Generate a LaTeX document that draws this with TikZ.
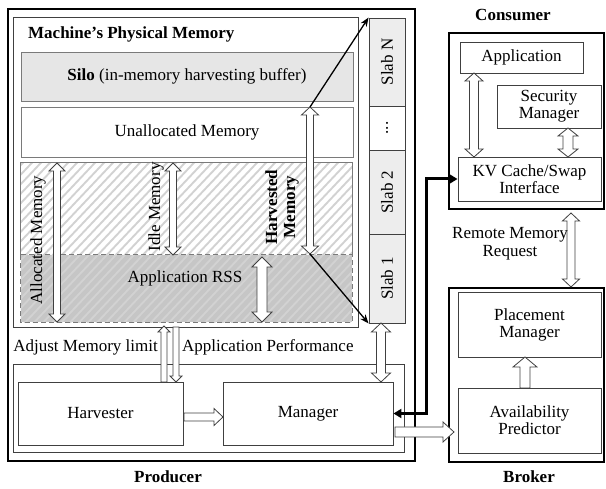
\documentclass[tikz,border=0pt]{standalone}
\usepackage{fontspec}
\setmainfont{Liberation Serif}
\usetikzlibrary{arrows.meta,calc}
\definecolor{silofill}{HTML}{E6E6E6}
\definecolor{slabfill}{HTML}{EDEDED}
\definecolor{rssfill}{HTML}{C6C6C6}
\definecolor{hatchc}{HTML}{D2D2D2}
\definecolor{edge}{HTML}{404040}
\definecolor{softedge}{HTML}{7A7A7A}
\newcommand\boxnode[7]{\node[#6, minimum width={#4-#2}, minimum height={#5-#3}, inner sep=0pt, align=center] (#1) at ({(#2+#4)/2},{(#3+#5)/2}) {#7};}
% vertical double hollow arrow: x, ytop, ybot, half shaft, half head, head length
\newcommand\vdarr[6]{\draw[hollow] (#1-#4,#2+#6) -- (#1-#5,#2+#6) -- (#1,#2) -- (#1+#5,#2+#6) -- (#1+#4,#2+#6) -- (#1+#4,#3-#6) -- (#1+#5,#3-#6) -- (#1,#3) -- (#1-#5,#3-#6) -- (#1-#4,#3-#6) -- cycle;}
\newcommand\vuarr[6]{\draw[hollow] (#1-#4,#3) -- (#1-#4,#2+#6) -- (#1-#5,#2+#6) -- (#1,#2) -- (#1+#5,#2+#6) -- (#1+#4,#2+#6) -- (#1+#4,#3) -- cycle;}
\newcommand\vdnarr[6]{\draw[hollow] (#1-#4,#2) -- (#1-#4,#3-#6) -- (#1-#5,#3-#6) -- (#1,#3) -- (#1+#5,#3-#6) -- (#1+#4,#3-#6) -- (#1+#4,#2) -- cycle;}
\newcommand\hrarr[6]{\draw[hollow] (#2,#1-#4) -- (#3-#6,#1-#4) -- (#3-#6,#1-#5) -- (#3,#1) -- (#3-#6,#1+#5) -- (#3-#6,#1+#4) -- (#2,#1+#4) -- cycle;}
\begin{document}
\begin{tikzpicture}[x=1pt,y=-1pt,
  txt/.style={font=\fontsize{17}{19}\selectfont},
  box/.style={draw=edge, line width=0.9pt, txt},
  thickbox/.style={draw=black, line width=2.3pt},
  softbox/.style={draw=softedge, line width=0.9pt, txt},
  hollow/.style={draw=edge, fill=white, line width=0.8pt, line join=miter},
  lbl/.style={txt, inner sep=0pt},
  ttl/.style={txt, font=\fontsize{17}{19}\selectfont\bfseries, inner sep=0pt}]
\useasboundingbox (0,0) rectangle (606,489);
% ---------------- Producer ----------------
\boxnode{producer}{8}{9}{415}{461}{thickbox}{}
\boxnode{machine}{13}{17}{358}{327}{box}{}
\node[ttl, anchor=west] (mtitle) at (28,34) {Machine’s Physical Memory};
\boxnode{silo}{21}{52}{353}{101}{softbox, fill=silofill}{\textbf{Silo} (in-memory harvesting buffer)}
\boxnode{unalloc}{21}{107}{353}{157}{softbox}{Unallocated Memory}
% hatched region
\boxnode{alloc}{21}{163}{352}{322}{}{}
\boxnode{rss}{21}{255}{352}{322}{fill=rssfill}{}
\begin{scope}
  \clip (alloc.north west) rectangle (alloc.south east);
  \foreach \i in {-180,-171,...,360} {
    \draw[hatchc, line width=1.9pt] (\i,330) -- (\i+170,150);
  }
\end{scope}
\draw[softedge, line width=0.9pt] (rss.north west) -- (alloc.north west) -- (alloc.north east) -- (rss.north east);
\draw[softedge, line width=0.9pt, dashed, dash pattern=on 5pt off 3pt] (rss.north west) rectangle (rss.south east);
\node[lbl] (rsslbl) at (185,278) {Application RSS};
\node[lbl, rotate=90] (alloclbl) at (38,240) {Allocated Memory};
\node[lbl, rotate=90] (idlelbl) at (156,207) {Idle Memory};
\node[ttl, rotate=90, align=center, font=\fontsize{17}{18}\selectfont\bfseries] (harvlbl) at (282,207) {Harvested\\Memory};
% slabs
\boxnode{slabN}{369}{18}{405}{106}{box, fill=slabfill}{}
\boxnode{slabD}{369}{106}{405}{150}{box}{}
\boxnode{slab2}{369}{150}{405}{234}{box, fill=slabfill}{}
\boxnode{slab1}{369}{234}{405}{323}{box, fill=slabfill}{}
\node[lbl, rotate=90] at (slabN) {Slab N};
\node[lbl, rotate=90] at (slabD) {...};
\node[lbl, rotate=90] at (slab2) {Slab 2};
\node[lbl, rotate=90] at (slab1) {Slab 1};
% memory arrows
\vdarr{57}{163}{322}{3.5}{8}{8}
\vdarr{173}{163}{255}{3.5}{8}{8}
\vdarr{262}{257}{322}{5}{10}{10}
\vdarr{310}{107}{254}{3.5}{8.5}{8}
\coordinate (htop) at (310,107);
\coordinate (hbot) at (310,254);
\draw[line width=1.3pt, -{Stealth[length=9pt,width=7pt]}] (htop) -- (slabN.north west);
\draw[line width=1.3pt, -{Stealth[length=9pt,width=7pt]}] (hbot) -- (slab1.south west);
% bottom part
\boxnode{ctrl}{13}{364}{404}{452}{box}{}
\boxnode{harvester}{18}{382}{183}{445}{box}{Harvester}
\boxnode{manager}{223}{382}{393}{445}{box}{Manager}
\vuarr{164}{326}{382}{3}{6}{6}
\vdnarr{176}{327}{382}{3}{6}{6}
\node[lbl, anchor=east] (adj) at (158,347) {Adjust Memory limit};
\node[lbl, anchor=west] (perf) at (182,347) {Application Performance};
\hrarr{417}{184}{223}{4}{8.5}{9}
\vdarr{381}{323}{382}{4.5}{9.5}{9}
\node[ttl] (ptitle) at (168,477) {Producer};
% ---------------- Consumer ----------------
\boxnode{consumer}{449}{33}{604}{209}{thickbox}{}
\node[ttl] (ctitle) at (513,15) {Consumer};
\boxnode{app}{460}{42}{583}{73}{box}{Application}
\boxnode{security}{497}{85}{601}{128}{box}{Security\\[-2pt]Manager}
\boxnode{kv}{458}{157}{601}{201}{box}{KV Cache/Swap\\[-2pt]Interface}
\vdarr{474}{73}{157}{4.5}{9}{8}
\vdarr{568}{128}{157}{5}{10}{8}
% ---------------- Broker ----------------
\boxnode{broker}{449}{288}{604}{462}{thickbox}{}
\node[ttl] (btitle) at (529,477) {Broker};
\boxnode{placement}{458}{292}{601}{357}{box}{Placement\\[-2pt]Manager}
\boxnode{avail}{458}{388}{601}{453}{box}{Availability\\[-2pt]Predictor}
\vuarr{525}{357}{388}{5}{12}{10}
\vdarr{571}{213}{287}{4}{8.5}{8}
\node[lbl, align=center] (rmr) at (510,244) {Remote Memory\\[-1pt]Request};
\hrarr{432}{395}{454}{5}{10}{11}
% thick bus connector
\coordinate (bus) at (426,413.5);
\draw[line width=3pt, {Triangle[length=8pt,width=9pt]}-{Triangle[length=8pt,width=9pt]}] (manager.east) -- (bus) |- (kv.west);
\end{tikzpicture}
\end{document}
